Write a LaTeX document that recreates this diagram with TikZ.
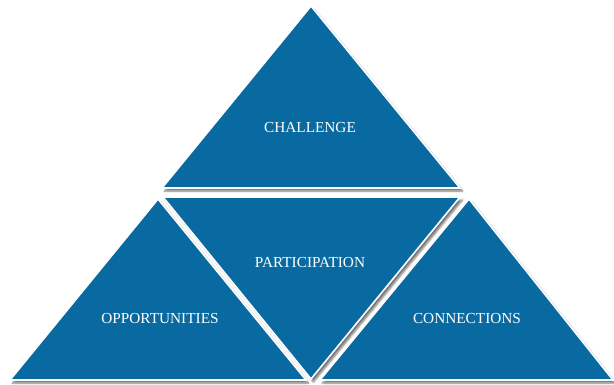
\documentclass[tikz,border=0pt]{standalone}
\usepackage{fontspec}
\setmainfont{Liberation Serif}
\usetikzlibrary{shadows.blur}
\definecolor{triblue}{RGB}{8,106,160}
\begin{document}
\begin{tikzpicture}[x=1pt,y=-1pt,
  tri/.style={fill=triblue,draw=white,line width=1.6pt,line join=miter,
    blur shadow={shadow xshift=2.5pt,shadow yshift=-3pt,shadow blur steps=6,shadow blur extra rounding=0pt,shadow opacity=55}},
  lbl/.style={text=white,font=\fontsize{15.3}{18}\selectfont,inner sep=0pt}]
\useasboundingbox (0,0) rectangle (614,384);
\draw[tri] (311,6) -- (460,188) -- (162,188) -- cycle;
\draw[tri] (158,199) -- (306,380) -- (10,380) -- cycle;
\draw[tri] (163,197) -- (460,197) -- (311,379) -- cycle;
\draw[tri] (469,199) -- (613,380) -- (320,380) -- cycle;
\node[lbl] (challenge) at (310,128) {CHALLENGE};
\node[lbl] (participation) at (310,263) {PARTICIPATION};
\node[lbl] (opportunities) at (160,319) {OPPORTUNITIES};
\node[lbl] (connections) at (467,319) {CONNECTIONS};
\end{tikzpicture}
\end{document}
